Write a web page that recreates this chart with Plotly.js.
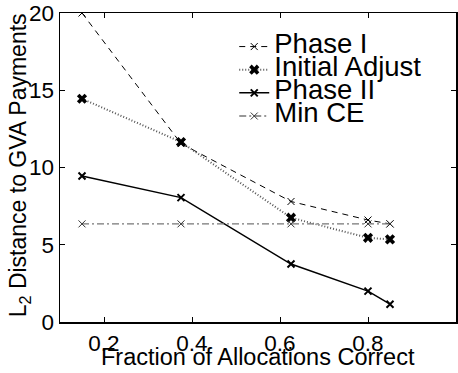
<!DOCTYPE html>
<html>
<head>
<meta charset="utf-8">
<script src="https://cdn.plot.ly/plotly-3.0.1.min.js"></script>
<style>html,body{margin:0;padding:0;background:#fff;}#chart{width:458px;height:373px;}</style>
</head>
<body>
<div id="chart"></div>
<script>
// Data
const fractionCorrect = [0.15, 0.375, 0.625, 0.8, 0.85];
const phaseI = [20, 11.55, 7.8, 6.6, 6.35];
const initialAdjust = [14.45, 11.65, 6.75, 5.45, 5.35];
const phaseII = [9.45, 8.05, 3.75, 2.0, 1.15];
const minCE = [6.35, 6.35, 6.35, 6.35, 6.35];
const seriesNames = ['Phase I', 'Initial Adjust', 'Phase II', 'Min CE'];
const xTicks = [0.2, 0.4, 0.6, 0.8, 1];
const xTickText = ['0.2', '0.4', '0.6', '0.8', '1'];
const yTicks = [0, 5, 10, 15, 20];
const xTitle = 'Fraction of Allocations Correct';
const yTitle = 'L<sub>2</sub> Distance to GVA Payments';

const FONT = 'Liberation Sans, Arial, Helvetica, sans-serif';
const big = s => '<span style="font-size:27.5px">' + s + '</span>';

const traces = [
  {x: fractionCorrect, y: phaseI, name: big(seriesNames[0]), mode: 'lines+markers',
   line: {color: '#000', width: 1, dash: '6px,5px'},
   marker: {symbol: 'x-thin', size: 7, line: {color: '#000', width: 1}}},
  {x: fractionCorrect, y: initialAdjust, name: big(seriesNames[1]), mode: 'lines+markers',
   line: {color: '#555', width: 2, dash: '1px,2px'},
   marker: {symbol: 'x', size: 9, color: '#000', line: {width: 0}}},
  {x: fractionCorrect, y: phaseII, name: big(seriesNames[2]), mode: 'lines+markers',
   line: {color: '#000', width: 1.5},
   marker: {symbol: 'x-thin', size: 7, line: {color: '#000', width: 2}}},
  {x: fractionCorrect, y: minCE, name: big(seriesNames[3]), mode: 'lines+markers',
   line: {color: '#777', width: 1.3, dash: '7px,3px,2px,3px'},
   marker: {symbol: 'x-thin', size: 7, line: {color: '#333', width: 1}}}
];

const axisCommon = {
  showgrid: false, zeroline: false, showline: true, mirror: 'ticks',
  linecolor: '#000', linewidth: 1.5, ticks: 'inside', ticklen: 5,
  tickwidth: 1, tickcolor: '#000',
  tickfont: {family: FONT, size: 22.5, color: '#000'}
};

const layout = {
  width: 458, height: 373,
  margin: {l: 60, r: 2, t: 13, b: 51, pad: 0},
  paper_bgcolor: '#fff', plot_bgcolor: '#fff',
  font: {family: FONT, color: '#000'},
  showlegend: true,
  legend: {x: 0.44, y: 0.945, xanchor: 'left', yanchor: 'top',
           bgcolor: 'rgba(0,0,0,0)', borderwidth: 0,
           font: {family: FONT, size: 15.5, color: '#000'}},
  xaxis: Object.assign({}, axisCommon, {
    range: [0.1, 1], tickvals: xTicks, ticktext: xTickText
  }),
  yaxis: Object.assign({}, axisCommon, {
    range: [0, 20], tickvals: yTicks
  }),
  annotations: [
    {text: xTitle, xref: 'paper', yref: 'paper', x: 0.5, y: -0.064,
     xanchor: 'center', yanchor: 'top', showarrow: false,
     font: {family: FONT, size: 23.5, color: '#000'}},
    {text: yTitle, xref: 'paper', yref: 'paper', x: -0.102, y: 0.506,
     xanchor: 'center', yanchor: 'middle', showarrow: false, textangle: -90,
     font: {family: FONT, size: 23, color: '#000'}}
  ]
};

Plotly.newPlot('chart', traces, layout, {staticPlot: true, displayModeBar: false});
</script>
</body>
</html>
